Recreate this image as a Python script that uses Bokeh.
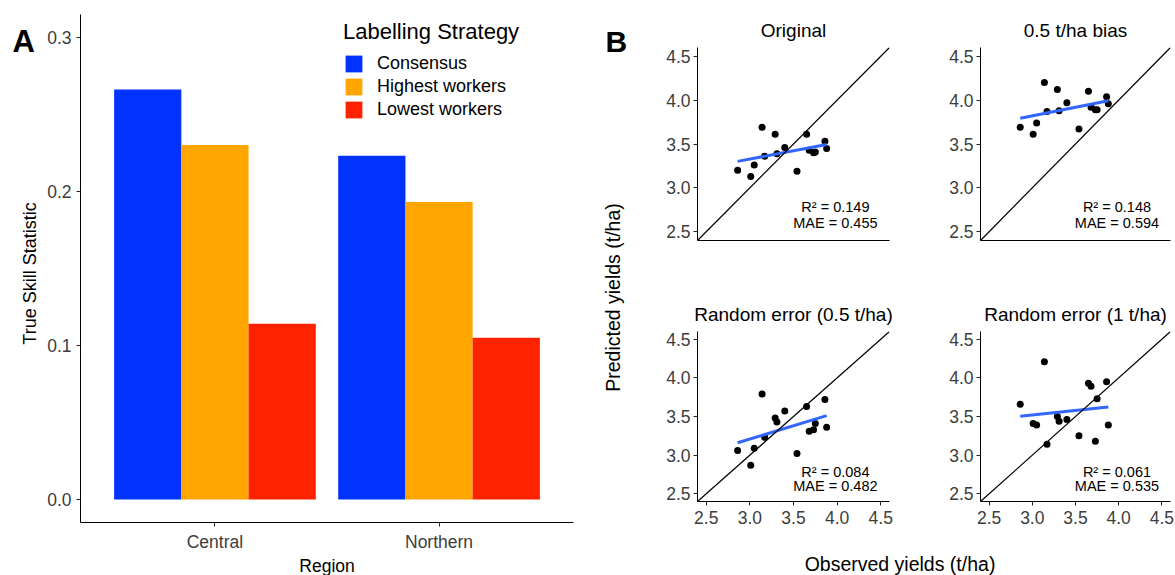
import numpy as np
from bokeh.plotting import figure
from bokeh.layouts import row, column
from bokeh.models import (Range1d, FactorRange, ColumnDataSource, FixedTicker,
                          PrintfTickFormatter, Legend, LegendItem, Label, Slope)
from bokeh.transform import dodge
from bokeh.embed import file_html
from bokeh.resources import INLINE

FONT = "Liberation Sans"
TICK_TEXT = "#3d3d3d"

# ---------------- Panel A data ----------------
regions = ["Central", "Northern"]
strategies = ["Consensus", "Highest workers", "Lowest workers"]
consensus = [0.266, 0.223]
highest_workers = [0.230, 0.193]
lowest_workers = [0.114, 0.105]
strategy_colors = ["#0033FF", "#FFA500", "#FF2200"]
tss_ticks = [0.0, 0.1, 0.2, 0.3]

# ---------------- Panel B data ----------------
observed = [2.86, 3.01, 3.05, 3.14, 3.17, 3.29, 3.31, 3.40, 3.54, 3.65, 3.68, 3.73, 3.75, 3.86, 3.88]
pred_original = [3.20, 3.13, 3.26, 3.69, 3.36, 3.61, 3.39, 3.46, 3.19, 3.61, 3.43, 3.40, 3.41, 3.53, 3.45]
pred_bias = [3.69, 3.61, 3.74, 4.20, 3.87, 4.12, 3.88, 3.97, 3.67, 4.10, 3.92, 3.89, 3.89, 4.04, 3.96]
pred_err_05 = [3.06, 2.87, 3.09, 3.79, 3.23, 3.48, 3.43, 3.57, 3.02, 3.63, 3.31, 3.33, 3.41, 3.72, 3.36]
pred_err_1 = [3.66, 3.41, 3.39, 4.21, 3.14, 3.50, 3.44, 3.46, 3.25, 3.93, 3.89, 3.18, 3.73, 3.95, 3.39]
panel_titles = ["Original", "0.5 t/ha bias", "Random error (0.5 t/ha)", "Random error (1 t/ha)"]
r2_values = ["0.149", "0.148", "0.084", "0.061"]
mae_values = ["0.455", "0.594", "0.482", "0.535"]
yield_ticks = [2.5, 3.0, 3.5, 4.0, 4.5]
predictions = [pred_original, pred_bias, pred_err_05, pred_err_1]


def style_axes(p):
    for ax in p.axis:
        ax.axis_line_color = "black"
        ax.axis_line_width = 1
        ax.major_tick_line_color = "#222222"
        ax.major_tick_in = 0
        ax.major_tick_out = 4
        ax.minor_tick_line_color = None
        ax.major_label_text_font = FONT
        ax.major_label_text_font_size = "17.5px"
        ax.major_label_text_color = TICK_TEXT
        ax.major_label_standoff = 5
        ax.axis_label_text_font = FONT
        ax.axis_label_text_font_style = "normal"
        ax.axis_label_text_color = "black"
    p.grid.visible = False
    p.outline_line_color = None


def blank(w, h):
    b = figure(x_range=Range1d(0, 1), y_range=Range1d(0, 1), frame_width=w, frame_height=h,
               min_border=0, x_axis_location=None, y_axis_location=None,
               output_backend="svg", toolbar_location=None)
    b.grid.visible = False
    b.outline_line_color = None
    return b


def text_label(fig, x, y, text, size, **kw):
    fig.add_layout(Label(x=x, y=y, x_units="canvas", y_units="canvas", text=text,
                         text_font=FONT, text_font_size=size, text_color="black", **kw))


# ---------------- Panel A ----------------
pa = figure(x_range=FactorRange(factors=regions, range_padding=0.1),
            y_range=Range1d(-0.0149, 0.3146),
            frame_width=493, frame_height=508,
            min_border_left=40, min_border_right=10, min_border_top=14, min_border_bottom=30,
            output_backend="svg", toolbar_location=None)
style_axes(pa)
pa.yaxis.ticker = FixedTicker(ticks=tss_ticks)
pa.yaxis.formatter = PrintfTickFormatter(format="%.1f")

src = ColumnDataSource(dict(region=regions, consensus=consensus,
                            highest=highest_workers, lowest=lowest_workers))
items = []
for col, off, color, name in zip(["consensus", "highest", "lowest"], [-0.3, 0.0, 0.3],
                                 strategy_colors, strategies):
    r = pa.vbar(x=dodge("region", off, range=pa.x_range), top=col, width=0.3,
                source=src, fill_color=color, line_color=None)
    items.append(LegendItem(label=name, renderers=[r]))

legend = Legend(items=items, location=(263, 402), title="Labelling Strategy",
                title_text_font=FONT, title_text_font_size="22px",
                title_text_font_style="normal", title_text_color="black", title_standoff=8,
                label_text_font=FONT, label_text_font_size="18px", label_text_color="black",
                glyph_width=21, glyph_height=21, label_height=21, label_standoff=13,
                spacing=2, padding=0, margin=0, border_line_color=None,
                background_fill_alpha=0)
pa.add_layout(legend)

# left strip of panel A: panel letter and y-axis title
left_a = blank(40, 575)
text_label(left_a, 12, 41, "A", "31px", text_font_style="bold", text_baseline="alphabetic")
text_label(left_a, 29, 273, "True Skill Statistic", "18px", angle=np.pi / 2,
           text_align="center", text_baseline="middle")

# bottom strip of panel A: x-axis title
region_a = blank(543, 23)
text_label(region_a, 286.5, 11.5, "Region", "17.5px", text_align="center",
           text_baseline="middle")

# ---------------- Label strip for panel B ----------------
lab = blank(50, 575)
text_label(lab, 22, 41, "B", "30px", text_font_style="bold", text_baseline="alphabetic")
text_label(lab, 29, 297, "Predicted yields (t/ha)", "19.5px", angle=np.pi / 2,
           text_align="center", text_baseline="middle")


def make_panel(k, fw, fh, left, right, top, bottom, show_x):
    p = figure(x_range=Range1d(2.4, 4.6), y_range=Range1d(2.4, 4.6),
               frame_width=fw, frame_height=fh,
               min_border_left=left, min_border_right=right,
               min_border_top=top, min_border_bottom=bottom,
               output_backend="svg", toolbar_location=None)
    p.title.text = panel_titles[k]
    p.title.align = "center"
    p.title.text_font = FONT
    p.title.text_font_size = "19px"
    p.title.text_font_style = "normal"
    p.title.text_color = "black"
    p.title.standoff = 13
    style_axes(p)
    p.yaxis.ticker = FixedTicker(ticks=yield_ticks)
    p.yaxis.formatter = PrintfTickFormatter(format="%.1f")
    p.yaxis.major_label_standoff = 3
    if show_x:
        p.xaxis.ticker = FixedTicker(ticks=yield_ticks)
        p.xaxis.formatter = PrintfTickFormatter(format="%.1f")
    else:
        p.xaxis.ticker = FixedTicker(ticks=[])

    xs = np.array(observed)
    ys = np.array(predictions[k])
    slope, intercept = np.polyfit(xs, ys, 1)
    xl = np.array([xs.min(), xs.max()])
    p.scatter(xs, ys, size=7, fill_color="black", line_color=None)
    p.line(xl, slope * xl + intercept, line_color="#3366FF", line_width=3)
    p.add_layout(Slope(gradient=1, y_intercept=0, line_color="black", line_width=1.2))
    for txt, yv in ((f"R\u00b2 = {r2_values[k]}", 2.78), (f"MAE = {mae_values[k]}", 2.60)):
        p.add_layout(Label(x=3.98, y=yv, text=txt, text_align="center",
                           text_baseline="middle", text_font=FONT,
                           text_font_size="14.5px", text_color="black"))
    return p


tl = make_panel(0, 192, 193, 64, 10, 47, 50, False)
tr = make_panel(1, 190, 193, 81, 5, 47, 50, False)
bl = make_panel(2, 192, 170, 64, 10, 41, 34, True)
br = make_panel(3, 190, 170, 81, 5, 41, 34, True)

strip = blank(542, 40)
text_label(strip, 266.5, 28, "Observed yields (t/ha)", "19.5px", text_align="center",
           text_baseline="middle")

layout = row(left_a, column(pa, region_a), lab,
             column(row(tl, tr), row(bl, br), strip))

open("out.html", "w").write(file_html(layout, INLINE, title="Labelling strategy and yields"))
